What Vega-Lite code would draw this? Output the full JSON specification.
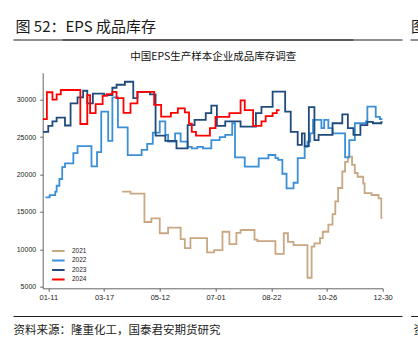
{
  "$schema": "https://vega.github.io/schema/vega-lite/v6.json",
  "width": 340,
  "height": 215.6,
  "autosize": {"type": "none"},
  "padding": {"left": 42.7, "top": 72.7, "right": 35.3, "bottom": 64.7},
  "background": "white",
  "config": {
    "view": {"stroke": null},
    "axis": {"grid": false}
  },
  "resolve": {"scale": {"x": "independent"}, "axis": {"x": "independent"}},
  "layer": [
    {
      "data": {
        "values": [
          {"year": "2021", "d": 53, "v": 17700}, {"year": "2021", "d": 59, "v": 17450}, {"year": "2021", "d": 69, "v": 13650}, {"year": "2021", "d": 74, "v": 14150},
          {"year": "2021", "d": 80, "v": 12150}, {"year": "2021", "d": 86, "v": 12900}, {"year": "2021", "d": 95, "v": 11350}, {"year": "2021", "d": 98, "v": 10150},
          {"year": "2021", "d": 102, "v": 11500}, {"year": "2021", "d": 114, "v": 9600}, {"year": "2021", "d": 119, "v": 9900}, {"year": "2021", "d": 125, "v": 12350},
          {"year": "2021", "d": 130, "v": 10700}, {"year": "2021", "d": 135, "v": 12200}, {"year": "2021", "d": 138, "v": 12580}, {"year": "2021", "d": 148, "v": 11300},
          {"year": "2021", "d": 150, "v": 11100}, {"year": "2021", "d": 163, "v": 9400}, {"year": "2021", "d": 169, "v": 12150}, {"year": "2021", "d": 172, "v": 11000},
          {"year": "2021", "d": 176, "v": 10570}, {"year": "2021", "d": 186, "v": 6200}, {"year": "2021", "d": 189, "v": 10350}, {"year": "2021", "d": 191, "v": 10800},
          {"year": "2021", "d": 195, "v": 11500}, {"year": "2021", "d": 197, "v": 12350}, {"year": "2021", "d": 201, "v": 13300}, {"year": "2021", "d": 204, "v": 14700},
          {"year": "2021", "d": 206, "v": 16400}, {"year": "2021", "d": 208, "v": 18200}, {"year": "2021", "d": 211, "v": 20400}, {"year": "2021", "d": 213, "v": 21700},
          {"year": "2021", "d": 215, "v": 22400}, {"year": "2021", "d": 218, "v": 21300}, {"year": "2021", "d": 220, "v": 20200}, {"year": "2021", "d": 222, "v": 19700},
          {"year": "2021", "d": 226, "v": 18800}, {"year": "2021", "d": 227, "v": 17500}, {"year": "2021", "d": 232, "v": 17260}, {"year": "2021", "d": 237, "v": 16800},
          {"year": "2021", "d": 239, "v": 14200}, {"year": "2021", "d": 240, "v": 14200},

          {"year": "2022", "d": -2, "v": 16950}, {"year": "2022", "d": 1, "v": 17250}, {"year": "2022", "d": 5, "v": 17700}, {"year": "2022", "d": 6, "v": 18500},
          {"year": "2022", "d": 8, "v": 19400}, {"year": "2022", "d": 10, "v": 21000}, {"year": "2022", "d": 12, "v": 21500}, {"year": "2022", "d": 18, "v": 22850},
          {"year": "2022", "d": 21, "v": 23800}, {"year": "2022", "d": 31, "v": 21100}, {"year": "2022", "d": 35, "v": 23000}, {"year": "2022", "d": 38, "v": 28400},
          {"year": "2022", "d": 43, "v": 24500}, {"year": "2022", "d": 46, "v": 30300}, {"year": "2022", "d": 50, "v": 26300}, {"year": "2022", "d": 57, "v": 22600},
          {"year": "2022", "d": 67, "v": 23300}, {"year": "2022", "d": 71, "v": 24100}, {"year": "2022", "d": 75, "v": 25600}, {"year": "2022", "d": 80, "v": 27100},
          {"year": "2022", "d": 84, "v": 25300}, {"year": "2022", "d": 86, "v": 24400}, {"year": "2022", "d": 91, "v": 25500}, {"year": "2022", "d": 95, "v": 24400},
          {"year": "2022", "d": 100, "v": 23700}, {"year": "2022", "d": 103, "v": 23500}, {"year": "2022", "d": 107, "v": 23700}, {"year": "2022", "d": 111, "v": 23500},
          {"year": "2022", "d": 117, "v": 24600}, {"year": "2022", "d": 123, "v": 25000}, {"year": "2022", "d": 127, "v": 25300}, {"year": "2022", "d": 132, "v": 26850},
          {"year": "2022", "d": 134, "v": 22300}, {"year": "2022", "d": 141, "v": 21050}, {"year": "2022", "d": 151, "v": 22170}, {"year": "2022", "d": 158, "v": 22610},
          {"year": "2022", "d": 163, "v": 22200}, {"year": "2022", "d": 165, "v": 21950}, {"year": "2022", "d": 168, "v": 20100}, {"year": "2022", "d": 171, "v": 18150},
          {"year": "2022", "d": 176, "v": 18900}, {"year": "2022", "d": 179, "v": 22200}, {"year": "2022", "d": 184, "v": 23700}, {"year": "2022", "d": 186, "v": 24400},
          {"year": "2022", "d": 188, "v": 25500}, {"year": "2022", "d": 190, "v": 27300}, {"year": "2022", "d": 196, "v": 26200}, {"year": "2022", "d": 198, "v": 27300},
          {"year": "2022", "d": 201, "v": 26200}, {"year": "2022", "d": 204, "v": 25500}, {"year": "2022", "d": 213, "v": 22300}, {"year": "2022", "d": 216, "v": 24600},
          {"year": "2022", "d": 220, "v": 26850}, {"year": "2022", "d": 228, "v": 27100}, {"year": "2022", "d": 229, "v": 29070}, {"year": "2022", "d": 235, "v": 27700},
          {"year": "2022", "d": 238, "v": 27400}, {"year": "2022", "d": 240, "v": 27400},

          {"year": "2023", "d": -4, "v": 25700}, {"year": "2023", "d": 0, "v": 26500}, {"year": "2023", "d": 3, "v": 27100}, {"year": "2023", "d": 6, "v": 27600},
          {"year": "2023", "d": 12, "v": 26550}, {"year": "2023", "d": 16, "v": 29500}, {"year": "2023", "d": 21, "v": 30300}, {"year": "2023", "d": 25, "v": 31200},
          {"year": "2023", "d": 28, "v": 29500}, {"year": "2023", "d": 32, "v": 30800}, {"year": "2023", "d": 40, "v": 30600}, {"year": "2023", "d": 46, "v": 31600},
          {"year": "2023", "d": 49, "v": 32000}, {"year": "2023", "d": 55, "v": 32400}, {"year": "2023", "d": 61, "v": 30200}, {"year": "2023", "d": 64, "v": 31050},
          {"year": "2023", "d": 73, "v": 30700}, {"year": "2023", "d": 77, "v": 25200}, {"year": "2023", "d": 84, "v": 24500}, {"year": "2023", "d": 92, "v": 23500},
          {"year": "2023", "d": 100, "v": 26600}, {"year": "2023", "d": 105, "v": 27300}, {"year": "2023", "d": 113, "v": 28200}, {"year": "2023", "d": 117, "v": 29200},
          {"year": "2023", "d": 121, "v": 26500}, {"year": "2023", "d": 127, "v": 27100}, {"year": "2023", "d": 138, "v": 26400}, {"year": "2023", "d": 149, "v": 28200},
          {"year": "2023", "d": 153, "v": 29050}, {"year": "2023", "d": 161, "v": 31070}, {"year": "2023", "d": 170, "v": 28400}, {"year": "2023", "d": 174, "v": 25700},
          {"year": "2023", "d": 179, "v": 23950}, {"year": "2023", "d": 182, "v": 25500}, {"year": "2023", "d": 184, "v": 23800}, {"year": "2023", "d": 187, "v": 29000},
          {"year": "2023", "d": 191, "v": 24600}, {"year": "2023", "d": 194, "v": 25300}, {"year": "2023", "d": 204, "v": 26850}, {"year": "2023", "d": 211, "v": 28050},
          {"year": "2023", "d": 215, "v": 26200}, {"year": "2023", "d": 219, "v": 25300}, {"year": "2023", "d": 224, "v": 26600}, {"year": "2023", "d": 229, "v": 27050},
          {"year": "2023", "d": 233, "v": 26850}, {"year": "2023", "d": 239, "v": 27000}, {"year": "2023", "d": 240, "v": 27000},

          {"year": "2024", "d": -4, "v": 27400}, {"year": "2024", "d": -1, "v": 31000}, {"year": "2024", "d": 3, "v": 30000}, {"year": "2024", "d": 6, "v": 30700},
          {"year": "2024", "d": 9, "v": 31300}, {"year": "2024", "d": 23, "v": 26750}, {"year": "2024", "d": 28, "v": 30600}, {"year": "2024", "d": 30, "v": 28200},
          {"year": "2024", "d": 34, "v": 29400}, {"year": "2024", "d": 39, "v": 30500}, {"year": "2024", "d": 42, "v": 30750}, {"year": "2024", "d": 46, "v": 31050},
          {"year": "2024", "d": 49, "v": 30200}, {"year": "2024", "d": 54, "v": 28250}, {"year": "2024", "d": 59, "v": 29500}, {"year": "2024", "d": 64, "v": 31050},
          {"year": "2024", "d": 76, "v": 29300}, {"year": "2024", "d": 81, "v": 27750}, {"year": "2024", "d": 88, "v": 28250}, {"year": "2024", "d": 93, "v": 28850},
          {"year": "2024", "d": 98, "v": 28300}, {"year": "2024", "d": 101, "v": 26800}, {"year": "2024", "d": 103, "v": 25700}, {"year": "2024", "d": 106, "v": 25200},
          {"year": "2024", "d": 116, "v": 26200}, {"year": "2024", "d": 120, "v": 27700}, {"year": "2024", "d": 130, "v": 28200}, {"year": "2024", "d": 138, "v": 29900},
          {"year": "2024", "d": 141, "v": 28600}, {"year": "2024", "d": 147, "v": 26500}, {"year": "2024", "d": 153, "v": 27100}, {"year": "2024", "d": 156, "v": 27800},
          {"year": "2024", "d": 161, "v": 28200}, {"year": "2024", "d": 164, "v": 28600}, {"year": "2024", "d": 166, "v": 28600}
        ]
      },
      "mark": {"type": "line", "interpolate": "step-after", "strokeWidth": 1.8, "clip": true},
      "encoding": {
        "x": {
          "field": "d", "type": "quantitative",
          "scale": {"domain": [-4, 240], "nice": false, "zero": false},
          "axis": {
            "orient": "bottom", "values": [0, 40, 80, 120, 160, 200, 240],
            "labelExpr": "['01-11','03-17','05-12','07-01','08-22','10-26','12-30'][round(datum.value/40)]",
            "title": null, "labelFont": "Liberation Sans", "labelFontSize": 7.5, "labelColor": "#222",
            "labelPadding": 2, "tickSize": 3, "tickColor": "#666", "domainColor": "#666", "labelFlush": false, "labelOverlap": false
          }
        },
        "y": {
          "field": "v", "type": "quantitative",
          "scale": {"domain": [4790, 33610], "nice": false, "zero": false},
          "axis": {
            "values": [5000, 10000, 15000, 20000, 25000, 30000], "format": "d",
            "title": null, "labelFont": "Liberation Sans", "labelFontSize": 7, "labelColor": "#222",
            "labelPadding": 4, "tickSize": 3, "tickColor": "#666", "domainColor": "#666"
          }
        },
        "color": {
          "field": "year", "type": "nominal",
          "scale": {"domain": ["2021", "2022", "2023", "2024"], "range": ["#c8a782", "#3b8fd6", "#1f4a7c", "#ff0000"]},
          "legend": {
            "orient": "none", "legendX": 9.4, "legendY": 174.5, "title": null,
            "symbolType": "M-2.03,0H2.03", "symbolSize": 55, "symbolStrokeWidth": 2,
            "labelFont": "Liberation Sans", "labelFontSize": 6.5, "labelColor": "#222",
            "labelOffset": 9.8, "rowPadding": 1.5, "clipHeight": 7.4
          }
        }
      }
    },
    {
      "data": {"values": [{"g": 0}]},
      "mark": {"type": "point", "opacity": 0},
      "encoding": {
        "x": {
          "field": "g", "type": "quantitative", "scale": {"domain": [0, 1]},
          "axis": {
            "orient": "top", "offset": 33.2, "position": -29.7, "ticks": false, "labels": false, "grid": false,
            "domain": true, "domainColor": "#222", "domainWidth": 1.1,
            "title": "图 52：EPS 成品库存",
            "titleFont": "Noto Sans CJK SC", "titleFontSize": 15, "titleFontWeight": "normal", "titleColor": "#1a1a1a",
            "titleX": 2, "titleY": -12.8, "titleAlign": "left", "titleBaseline": "middle", "titleAngle": 0
          }
        }
      }
    },
    {
      "data": {"values": [{"g": 0}]},
      "mark": {"type": "point", "opacity": 0},
      "encoding": {
        "x": {
          "field": "g", "type": "quantitative", "scale": {"domain": [0, 1]},
          "axis": {
            "orient": "top", "offset": 33.2, "position": 19.3, "ticks": false, "labels": false, "grid": false,
            "domain": true, "domainColor": "#222", "domainWidth": 1.1,
            "title": "中国EPS生产样本企业成品库存调查",
            "titleFont": "Noto Sans CJK SC", "titleFontSize": 10.5, "titleFontWeight": "normal", "titleColor": "#111",
            "titleX": 150.7, "titleY": 17.5, "titleAlign": "center", "titleBaseline": "middle", "titleAngle": 0
          }
        }
      }
    },
    {
      "data": {"values": [{"g": 0}]},
      "mark": {"type": "point", "opacity": 0},
      "encoding": {
        "x": {
          "field": "g", "type": "quantitative", "scale": {"domain": [0, 1]},
          "axis": {
            "orient": "top", "offset": 33.2, "position": 367.3, "ticks": false, "labels": false, "grid": false,
            "domain": true, "domainColor": "#222", "domainWidth": 1.1,
            "title": "图",
            "titleFont": "Noto Sans CJK SC", "titleFontSize": 15, "titleFontWeight": "normal", "titleColor": "#1a1a1a",
            "titleX": 0.5, "titleY": -12.8, "titleAlign": "left", "titleBaseline": "middle", "titleAngle": 0
          }
        }
      }
    },
    {
      "data": {"values": [{"g": 0}]},
      "mark": {"type": "point", "opacity": 0},
      "encoding": {
        "x": {
          "field": "g", "type": "quantitative", "scale": {"domain": [0, 1]},
          "axis": {
            "orient": "bottom", "offset": 27.7, "position": -29.7, "ticks": false, "labels": false, "grid": false,
            "domain": true, "domainColor": "#222", "domainWidth": 1.1,
            "title": "资料来源：隆重化工，国泰君安期货研究",
            "titleFont": "Noto Sans CJK SC", "titleFontSize": 11.5, "titleFontWeight": "normal", "titleColor": "#222",
            "titleX": 0, "titleY": 14.7, "titleAlign": "left", "titleBaseline": "middle", "titleAngle": 0
          }
        }
      }
    },
    {
      "data": {"values": [{"g": 0}]},
      "mark": {"type": "point", "opacity": 0},
      "encoding": {
        "x": {
          "field": "g", "type": "quantitative", "scale": {"domain": [0, 1]},
          "axis": {
            "orient": "bottom", "offset": 27.7, "position": 19.3, "ticks": false, "labels": false, "grid": false,
            "domain": true, "domainColor": "#222", "domainWidth": 1.1, "title": null
          }
        }
      }
    },
    {
      "data": {"values": [{"g": 0}]},
      "mark": {"type": "point", "opacity": 0},
      "encoding": {
        "x": {
          "field": "g", "type": "quantitative", "scale": {"domain": [0, 1]},
          "axis": {
            "orient": "bottom", "offset": 27.7, "position": 368, "ticks": false, "labels": false, "grid": false,
            "domain": true, "domainColor": "#222", "domainWidth": 1.1,
            "title": "资",
            "titleFont": "Noto Sans CJK SC", "titleFontSize": 11.5, "titleFontWeight": "normal", "titleColor": "#222",
            "titleX": 2.3, "titleY": 14.7, "titleAlign": "left", "titleBaseline": "middle", "titleAngle": 0
          }
        }
      }
    }
  ]
}
